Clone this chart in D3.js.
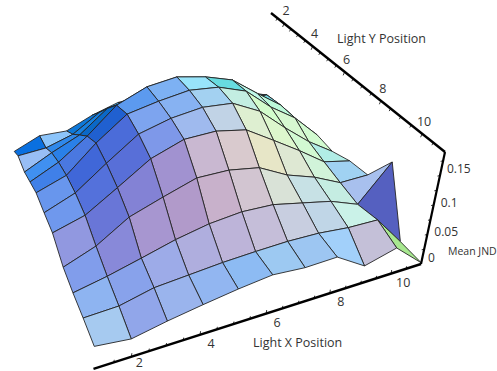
<!DOCTYPE html>
<html>
<head>
<meta charset="utf-8">
<script src="https://cdn.jsdelivr.net/npm/d3@7"></script>
<style>
body { margin: 0; background: #fff; }
text { font-family: "Open Sans", sans-serif; fill: #333; }
</style>
</head>
<body>
<svg id="chart" width="497" height="371"></svg>
<script>
// light positions on the two floor axes
var lightX = [1, 2, 3, 4, 5, 6, 7, 8, 9, 10, 11];
var lightY = [1, 2, 3, 4, 5, 6, 7, 8, 9, 10, 11];

// mean JND, one row per light Y position, one column per light X position
var meanJnd = [
  [.025, .042, .039, .057, .070, .072, .060, .050, .035, .020, .000],
  [.044, .046, .059, .088, .095, .100, .090, .075, .055, .055, .011],
  [.043, .065, .085, .122, .130, .135, .125, .105, .080, .078, .025],
  [.055, .077, .111, .155, .177, .184, .173, .156, .119, .084, .032],
  [.067, .084, .128, .167, .178, .186, .180, .161, .119, .086, .040],
  [.065, .085, .123, .161, .176, .183, .178, .151, .108, .069, .037],
  [.065, .080, .113, .149, .169, .170, .159, .127, .095, .061, .049],
  [.043, .063, .097, .116, .134, .133, .123, .096, .078, .054, .054],
  [.039, .050, .064, .079, .090, .095, .092, .080, .068, .048, .109],
  [.039, .041, .054, .058, .062, .064, .065, .063, .057, .055, .002],
  [.037, .030, .041, .050, .058, .064, .059, .060, .029, .043, .002]
];

var xTicks = [2, 4, 6, 8, 10];
var yTicks = [2, 4, 6, 8, 10];
var zTicks = [0, 0.05, 0.1, 0.15];
var xTickNudge = [-3, 0, 0, 0, 1];
var zTickNudge = [-6, -3, -2, -7];

var svg = d3.select("#chart");

// the plot box, floor and ceiling corners on screen
var floorCorners = [[96, 368], [421, 264], [261.9, 101.9], [17.2, 165]];
var ceilCorners = [[87.1, 257], [445, 152], [271, 13], [-5.1, 61.8]];

function quadMap(q) {
  var x0 = q[0][0], y0 = q[0][1], x1 = q[1][0], y1 = q[1][1],
      x2 = q[2][0], y2 = q[2][1], x3 = q[3][0], y3 = q[3][1];
  var dx1 = x1 - x2, dx2 = x3 - x2, sx = x0 - x1 + x2 - x3,
      dy1 = y1 - y2, dy2 = y3 - y2, sy = y0 - y1 + y2 - y3,
      den = dx1 * dy2 - dx2 * dy1;
  var g = (sx * dy2 - dx2 * sy) / den, h = (dx1 * sy - sx * dy1) / den;
  var a = x1 - x0 + g * x1, b = x3 - x0 + h * x3,
      d = y1 - y0 + g * y1, e = y3 - y0 + h * y3;
  return function(u, v) {
    var w = g * u + h * v + 1;
    return [(a * u + b * v + x0) / w, (d * u + e * v + y0) / w];
  };
}

var floorMap = quadMap(floorCorners), ceilMap = quadMap(ceilCorners);

var xScale = d3.scaleLinear().domain([1, 11]).range([0, 1]);
var yScale = d3.scaleLinear().domain([11, 1]).range([0, 1]);
var zScale = d3.scaleLinear().domain([0, 0.19]).range([0, 1]);

function project(x, y, z) {
  var u = xScale(x), v = yScale(y), w = zScale(z);
  var b = floorMap(u, v), t = ceilMap(u, v);
  return [b[0] + w * (t[0] - b[0]), b[1] + w * (t[1] - b[1])];
}

// faces where the smooth shading below does not hold: folds and the spike
// [light x, light y, fill]
var foldFills = [
  [1, 1, "#0a70e0"], [2, 1, "#8cc4fa"], [3, 1, "#0e78d8"],
  [1, 2, "#98bef5"], [2, 2, "#2f88ea"], [3, 2, "#1880e0"],
  [1, 3, "#4090f0"], [2, 3, "#2a80e8"], [3, 3, "#0a68c8"],
  [1, 4, "#4080e8"], [2, 4, "#4a78e0"], [3, 4, "#2060d0"],
  [6, 4, "#98e4fa"], [7, 4, "#68dce0"], [8, 4, "#c0f8e8"],
  [10, 1, "#62c2f8"], [10, 2, "#62c2f8"], [10, 3, "#62c2f8"], [10, 4, "#1a90a8"],
  [10, 8, "#a8c0ee"], [10, 9, "#5560c0"], [10, 10, "#a8e890"],
  [9, 9, "#caf2e8"], [8, 10, "#a2d0fa"], [9, 10, "#c4c0d8"]
];
var foldFill = new Map(foldFills.map(function(d) { return [d[0] + "," + d[1], d[2]]; }));

// a simple shading from the face normal, three coloured lights
var slopeScale = 21;
function shade(i, j) {
  var fold = foldFill.get(lightX[i] + "," + lightY[j]);
  if (fold) return fold;
  var p = (meanJnd[j][i + 1] - meanJnd[j][i] + meanJnd[j + 1][i + 1] - meanJnd[j + 1][i]) / 2 * slopeScale;
  var q = (meanJnd[j + 1][i] - meanJnd[j][i] + meanJnd[j + 1][i + 1] - meanJnd[j][i + 1]) / 2 * slopeScale;
  var len = Math.sqrt(p * p + q * q + 1);
  var nx = -p / len, ny = -q / len, nz = 1 / len;
  var r = 0.27 + 0.4 * nx + 0.46 * ny + 0.3 * nz;
  var g = 0.47 + 0.45 * nx + 0.02 * ny + 0.3 * nz;
  var b = 0.456 - 0.02 * nx - 0.06 * ny + 0.5 * nz;
  return d3.rgb(r * 255, g * 255, b * 255).clamp().formatHex();
}

// far rows first, right columns first
var cells = [];
lightY.slice(0, -1).forEach(function(y, j) {
  lightX.slice(0, -1).reverse().forEach(function(x) {
    cells.push({i: x - 1, j: j});
  });
});

var line = d3.line();
svg.append("g").selectAll("path")
  .data(cells)
  .join("path")
    .attr("d", function(d) {
      return line([
        project(lightX[d.i], lightY[d.j], meanJnd[d.j][d.i]),
        project(lightX[d.i + 1], lightY[d.j], meanJnd[d.j][d.i + 1]),
        project(lightX[d.i + 1], lightY[d.j + 1], meanJnd[d.j + 1][d.i + 1]),
        project(lightX[d.i], lightY[d.j + 1], meanJnd[d.j + 1][d.i])
      ]) + "Z";
    })
    .attr("fill", function(d) { return shade(d.i, d.j); })
    .attr("stroke", "#222")
    .attr("stroke-opacity", 0.88)
    .attr("stroke-width", 1)
    .attr("stroke-linejoin", "round");

// axes
function axisLine(a, b, w) {
  svg.append("line")
    .attr("x1", a[0]).attr("y1", a[1])
    .attr("x2", b[0]).attr("y2", b[1])
    .attr("stroke", "#000").attr("stroke-width", w);
}
axisLine(project(0.93, 11, 0), project(11, 11, 0), 2.4);
axisLine(project(11, 11, 0), project(11, 11, 0.19), 2.2);
axisLine(project(11, 11, 0.19), project(11, 1, 0.19), 2.4);

function tickMark(p, dx, dy) {
  axisLine(p, [p[0] + dx, p[1] + dy], 0.8);
}
d3.range(1.5, 11, 0.5).forEach(function(x) { tickMark(project(x, 11, 0), 0.5, x % 2 ? -2.5 : -3.5); });
d3.range(1.5, 11, 0.5).forEach(function(y) { tickMark(project(11, y, 0.19), -1.5, y % 2 ? 2.5 : 3.5); });
d3.range(0.025, 0.19, 0.025).forEach(function(z) { tickMark(project(11, 11, z), -2.5, 0.5); });

// tick labels
svg.append("g").selectAll("text")
  .data(xTicks)
  .join("text")
    .attr("x", function(d, i) { return project(d, 11, 0)[0] + 11 + xTickNudge[i]; })
    .attr("y", function(d) { return Math.min(project(d, 11, 0)[1] + 13, 367.2); })
    .attr("text-anchor", "middle").attr("font-size", 12.5)
    .text(function(d) { return d; });

svg.append("g").selectAll("text")
  .data(yTicks)
  .join("text")
    .attr("x", function(d) { return project(11, d, 0.19)[0] + 2; })
    .attr("y", function(d) { return project(11, d, 0.19)[1] - 8; })
    .attr("text-anchor", "middle").attr("font-size", 12.5)
    .text(function(d) { return d; });

svg.append("g").selectAll("text")
  .data(zTicks)
  .join("text")
    .attr("x", function(d) { return project(11, 11, d)[0] + 7; })
    .attr("y", function(d, i) { return project(11, 11, d)[1] + 4 + zTickNudge[i]; })
    .attr("font-size", 12)
    .text(function(d) { return d; });

// axis titles
svg.append("text").attr("x", 337).attr("y", 43).attr("font-size", 12.5).text("Light Y Position");
svg.append("text").attr("x", 253).attr("y", 347).attr("font-size", 12.5).text("Light X Position");
svg.append("text").attr("x", 448).attr("y", 255).attr("font-size", 10.5).text("Mean JND");
</script>
</body>
</html>
